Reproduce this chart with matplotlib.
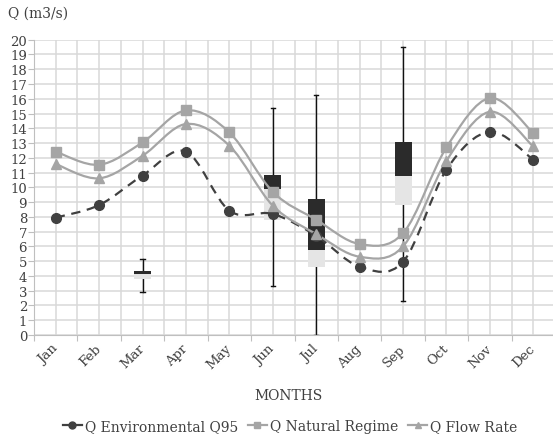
import numpy as np
import matplotlib
matplotlib.use('Agg')
import matplotlib.pyplot as plt
import matplotlib.transforms as mtrans
from matplotlib.path import Path
from matplotlib.patches import PathPatch

plt.rcParams['font.family'] = ['DejaVu Serif']

months = ['Jan', 'Feb', 'Mar', 'Apr', 'May', 'Jun', 'Jul', 'Aug', 'Sep', 'Oct', 'Nov', 'Dec']
q_env = [7.95, 8.8, 10.8, 12.42, 8.42, 8.2, 6.72, 4.63, 4.96, 11.2, 13.77, 11.87]
q_nat = [12.42, 11.53, 13.05, 15.21, 13.72, 9.7, 7.81, 6.16, 6.9, 12.71, 16.05, 13.68]
q_flow = [11.58, 10.61, 12.14, 14.29, 12.82, 8.76, 6.84, 5.3, 6.0, 11.8, 15.12, 12.77]

# box values: month index, whisker low, lower box, middle, upper box, whisker high
box_month = [2, 5, 6, 8]
box_low = [2.94, 3.34, 0.0, 2.32]
box_q1 = [3.82, 7.81, 4.58, 8.8]
box_mid = [4.11, 9.88, 5.78, 10.79]
box_q3 = [4.31, 10.83, 9.21, 13.05]
box_high = [5.17, 15.37, 16.25, 19.48]

txt = '#404040'


def smooth_path(x, y):
    # bezier curve through the points, like a spreadsheet "smoothed line"
    pts = np.column_stack([x, y]).astype(float)
    verts = [pts[0]]
    codes = [Path.MOVETO]
    n = len(pts)
    for i in range(n - 1):
        p0 = pts[i - 1] if i > 0 else pts[i]
        p1 = pts[i]
        p2 = pts[i + 1]
        p3 = pts[i + 2] if i + 2 < n else pts[i + 1]
        c1 = p1 + (p2 - p0) / 6.0
        c2 = p2 - (p3 - p1) / 6.0
        verts += [c1, c2, p2]
        codes += [Path.CURVE4] * 3
    return Path(verts, codes)


fig = plt.figure(figsize=(5.53, 4.39), dpi=100)
ax = fig.add_axes([34 / 553, 103 / 439, 521 / 553, 295.3 / 439])

x = np.arange(len(months))
ax.set_xlim(-0.5, 11.5)
ax.set_ylim(0, 20)

# grid: every unit on y, every half category on x
for v in np.arange(-0.5, 12, 0.5):
    ax.axvline(v, color='#d9d9d9', lw=1.1, zorder=0)
for v in range(0, 21):
    ax.axhline(v, color='#d9d9d9', lw=1.1, zorder=0)

# boxes
bw = 0.39
for m, lo, q1, md, q3, hi in zip(box_month, box_low, box_q1, box_mid, box_q3, box_high):
    ax.plot([m, m], [lo, hi], color='#111111', lw=1.0, zorder=2)
    ax.plot([m - 0.05, m + 0.05], [hi, hi], color='#111111', lw=1.0, zorder=2)
    ax.plot([m - 0.05, m + 0.05], [lo, lo], color='#111111', lw=1.0, zorder=2)
    ax.bar(m, md - q1, bottom=q1, width=bw, color='#e5e5e5', zorder=2.5)
    ax.bar(m, q3 - md, bottom=md, width=bw, color='#2b2b2b', zorder=2.5)

# smoothed series
lw = 1.6
ax.add_patch(PathPatch(smooth_path(x, q_env), fill=False, edgecolor='#404040', lw=lw,
                       linestyle=(0, (4.2, 3.0)), zorder=3))
ax.add_patch(PathPatch(smooth_path(x, q_nat), fill=False, edgecolor='#a5a5a5', lw=lw, zorder=3))
ax.add_patch(PathPatch(smooth_path(x, q_flow), fill=False, edgecolor='#a5a5a5', lw=lw, zorder=3))

ax.plot(x, q_env, 'o', color='#404040', ms=7, zorder=4)
ax.plot(x, q_nat, 's', color='#a5a5a5', ms=7, zorder=4)
ax.plot(x, q_flow, '^', color='#a5a5a5', ms=7.5, zorder=4)

# legend handles
ax.plot([], [], '-o', color='#404040', ms=5, lw=lw, label='Q Environmental Q95')
ax.plot([], [], '-s', color='#a5a5a5', ms=5, lw=lw, label='Q Natural Regime')
ax.plot([], [], '-^', color='#a5a5a5', ms=5, lw=lw, label='Q Flow Rate')

ax.set_yticks(range(0, 21))
ax.set_yticklabels([str(v) for v in range(0, 21)], fontsize=9.5, color=txt)
ax.set_xticks(np.arange(-0.5, 12, 1))
ax.set_xticklabels([])
ax.set_xticks(x, minor=True)
ax.set_xticklabels(months, minor=True, rotation=45, ha='right', va='center',
                   rotation_mode='anchor', fontsize=9.5, color=txt)
shift = mtrans.ScaledTranslation(5 / 100, 2 / 100, fig.dpi_scale_trans)
for lab in ax.get_xticklabels(minor=True):
    lab.set_transform(lab.get_transform() + shift)
ax.tick_params(axis='x', which='minor', length=0, pad=8)
ax.tick_params(axis='x', which='major', length=4, color='#bfbfbf', direction='out')
ax.tick_params(axis='y', length=4, color='#bfbfbf', pad=1)
for s in ['top', 'right']:
    ax.spines[s].set_visible(False)
ax.spines['left'].set_color('#bfbfbf')
ax.spines['bottom'].set_color('#bfbfbf')

fig.text(8 / 553, 1 - 14 / 439, 'Q (m3/s)', fontsize=10, color=txt, va='center', ha='left')
fig.text(288 / 553, 1 - 396 / 439, 'MONTHS', fontsize=10, color=txt, va='center', ha='center')
fig.legend(loc='center', bbox_to_anchor=(290 / 553, 1 - 427 / 439), ncol=3, frameon=False,
           fontsize=10, handlelength=1.4, handletextpad=0.2, columnspacing=0.7,
           labelcolor=txt)

fig.savefig('out.png', dpi=100)
